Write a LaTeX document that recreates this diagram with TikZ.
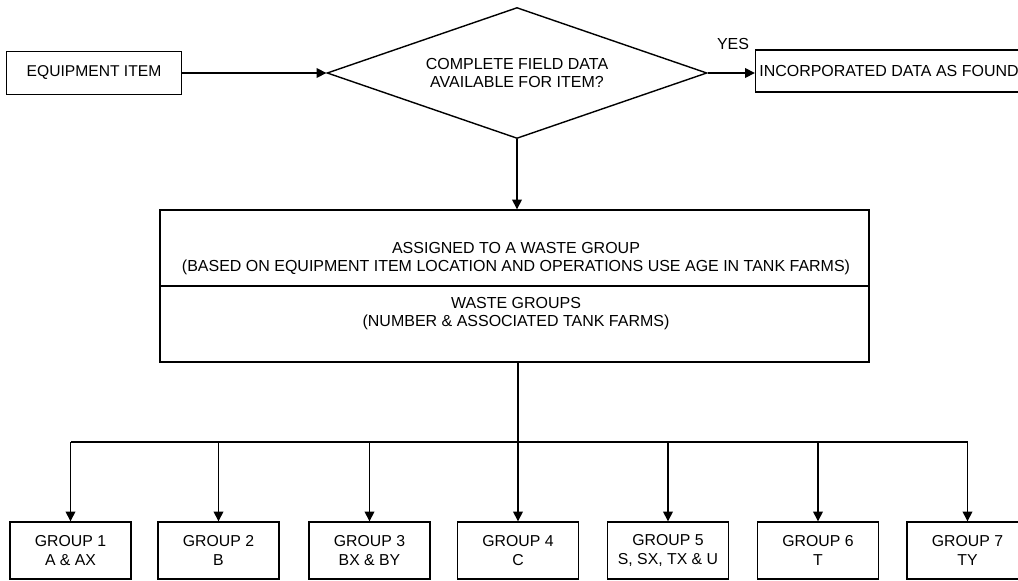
\documentclass[tikz,border=0pt]{standalone}
\usepackage{fontspec}
\setmainfont{Liberation Sans}
\usetikzlibrary{shapes.geometric,arrows.meta}

\begin{document}
\begin{tikzpicture}[x=0.02cm,y=-0.02cm,>={Triangle[length=5.5pt,width=5.5pt]},
        line width=0.8pt,font=\fontsize{9.1pt}{10.2pt}\selectfont,
        box/.style={draw,rectangle,inner sep=0pt,align=center},
        decision/.style={draw,diamond,aspect=2.9,minimum width=7.6cm,
            minimum height=2.62cm,inner sep=0pt,align=center},
        group/.style={box,minimum width=2.42cm,minimum height=1.14cm,
            font=\fontsize{9pt}{11pt}\selectfont}]
    \useasboundingbox (0,0) rectangle (1018,581);

    % top row
    \node[box,minimum width=3.5cm,minimum height=0.86cm,font=\fontsize{8.9pt}{10pt}\selectfont]
        (item) at (94,73) {EQUIPMENT ITEM};
    \node[decision] (check) at (517,73) {COMPLETE FIELD DATA\\AVAILABLE FOR ITEM?};
    \node[box,minimum width=5.34cm,minimum height=0.84cm] (found) at (889,71) {INCORPORATED DATA AS FOUND};
    \node (yes) at (733,44) {YES};
    \draw[->] (item.east) -- (check.west);
    \draw[->] (check.east) -- (check.east -| found.west);

    % waste group box, split in two
    \node[box,minimum width=14.18cm,minimum height=3.04cm] (assign) at (514.5,286) {};
    \draw (assign.west) -- (assign.east);
    \node[align=center] (assigntxt) at (516,259)
        {ASSIGNED TO A WASTE GROUP\\(BASED ON EQUIPMENT ITEM LOCATION AND OPERATIONS USE AGE IN TANK FARMS)};
    \node[align=center] (groupstxt) at (516,314)
        {WASTE GROUPS\\(NUMBER \& ASSOCIATED TANK FARMS)};
    \draw[->] (check.south) -- (check.south |- assign.north);

    % the seven groups
    \coordinate (bus) at (0,442);
    \foreach \x/\n/\farms in {70.5/1/A \& AX, 218.5/2/B, 369.5/3/BX \& BY, 518/4/C,
            668/5/{S, SX, TX \& U}, 818/6/T, 967.5/7/TY}
    {
        \node[group] (G\n) at (\x,550.5) {GROUP \n\\\farms};
        \draw[->] (G\n.north |- bus) -- (G\n.north);
    }
    \draw (G1.north |- bus) -- (G7.north |- bus);
    \draw (G4.north |- assign.south) -- (G4.north |- bus);
\end{tikzpicture}
\end{document}
